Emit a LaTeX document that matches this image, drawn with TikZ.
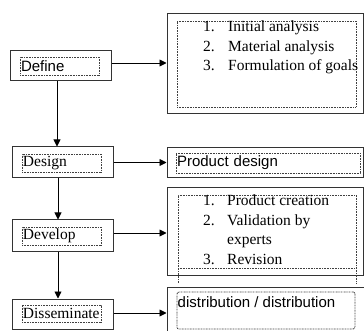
\documentclass[tikz,border=0pt]{standalone}
\usepackage{fontspec}
\setmainfont{Liberation Serif}
\setsansfont{Liberation Sans}
\usetikzlibrary{arrows.meta}
\begin{document}
\begin{tikzpicture}[x=1pt,y=-1pt,
  frame/.style={draw=black!80, line width=1pt, inner sep=0pt},
  dotbox/.style={draw=black!75, line width=0.9pt, dash pattern=on 0.9pt off 0.7pt, inner sep=0pt},
  link/.style={draw=black, line width=0.9pt, -{Triangle[length=7pt,width=7pt]}},
  serifbig/.style={font=\fontsize{15.5}{19.5}\selectfont},
  sansbig/.style={font=\sffamily\fontsize{15}{18}\selectfont},
  tag/.style={dotbox, align=left, inner xsep=1pt},
]
\clip (0,0) rectangle (364,331);

% ---- stage boxes (left column)
\node[frame, minimum width=101pt, minimum height=30pt] (define) at (60.5,66) {};
\node[tag, sansbig, minimum width=79pt, minimum height=18pt, text width=77pt] (defineIn) at (59.5,66) {Define};

\node[frame, minimum width=101pt, minimum height=31pt] (design) at (62.5,162.5) {};
\node[tag, serifbig, minimum width=79pt, minimum height=18pt, text width=77pt] (designIn) at (61.5,163) {Design};

\node[frame, minimum width=101pt, minimum height=31pt] (develop) at (62.5,235.5) {};
\node[tag, serifbig, minimum width=79pt, minimum height=18pt, text width=77pt] (developIn) at (61.5,236) {Develop};

\node[frame, minimum width=101pt, minimum height=30pt] (dissem) at (62.5,314) {};
\node[tag, serifbig, minimum width=79pt, minimum height=17pt, text width=77pt] (dissemIn) at (61.5,313.5) {Disseminate};

% ---- output boxes (right column)
\node[frame, minimum width=196pt, minimum height=100pt] (box1) at (265,64) {};
\node[dotbox, minimum width=179pt, minimum height=86pt] (box1In) at (266.5,64) {};
\node[serifbig, anchor=base west, inner sep=0pt] (goals) at (203,32)
  {\begin{tabular}[t]{@{}p{25pt}@{}l@{}}1.&Initial analysis\\2.&Material analysis\\3.&Formulation of goals\end{tabular}};

\node[frame, minimum width=196pt, minimum height=30pt] (prod) at (265,163) {};
\node[tag, sansbig, minimum width=184pt, minimum height=20pt, text width=182pt, inner xsep=1pt] (prodIn) at (268,163) {Product design};

\node[frame, minimum width=196pt, minimum height=87pt] (devBox) at (265,231.5) {};
\draw[dotbox] (178,283) -- (178,195) -- (356,195) -- (356,283);
\draw[dotbox] (178,268) -- (356,268);
\node[serifbig, anchor=base west, inner sep=0pt] (steps) at (203,206)
  {\begin{tabular}[t]{@{}p{24pt}@{}l@{}}1.&Product creation\\2.&Validation by\\&experts\\3.&Revision\end{tabular}};

\node[frame, minimum width=203pt, minimum height=53pt] (dist) at (268.5,313.5) {};
\node[dotbox, rounded corners=2pt, minimum width=178pt, minimum height=37pt] (distIn) at (266,310.5) {};
\node[sansbig, anchor=west, inner sep=0pt] (distText) at (177.5,302) {distribution / distribution};

% ---- connectors
\coordinate (v1) at ([xshift=-3.5pt]define.south);
\draw[link] (v1) -- (v1 |- design.north);
\coordinate (v2) at ([xshift=-4.5pt]design.south);
\draw[link] (v2) -- (v2 |- develop.north);
\coordinate (v3) at ([xshift=-4.5pt]develop.south);
\draw[link] (v3) -- (v3 |- dissem.north);

\coordinate (h1) at ([yshift=3pt]define.east);
\draw[link] (h1) -- (h1 -| box1.west);
\coordinate (h2) at (design.east);
\draw[link] (h2) -- (h2 -| prod.west);
\coordinate (h3) at ([yshift=2.5pt]develop.east);
\draw[link] (h3) -- (h3 -| devBox.west);
\coordinate (h4) at ([yshift=1pt]dissem.east);
\draw[link] (h4) -- (h4 -| dist.west);
\end{tikzpicture}
\end{document}
